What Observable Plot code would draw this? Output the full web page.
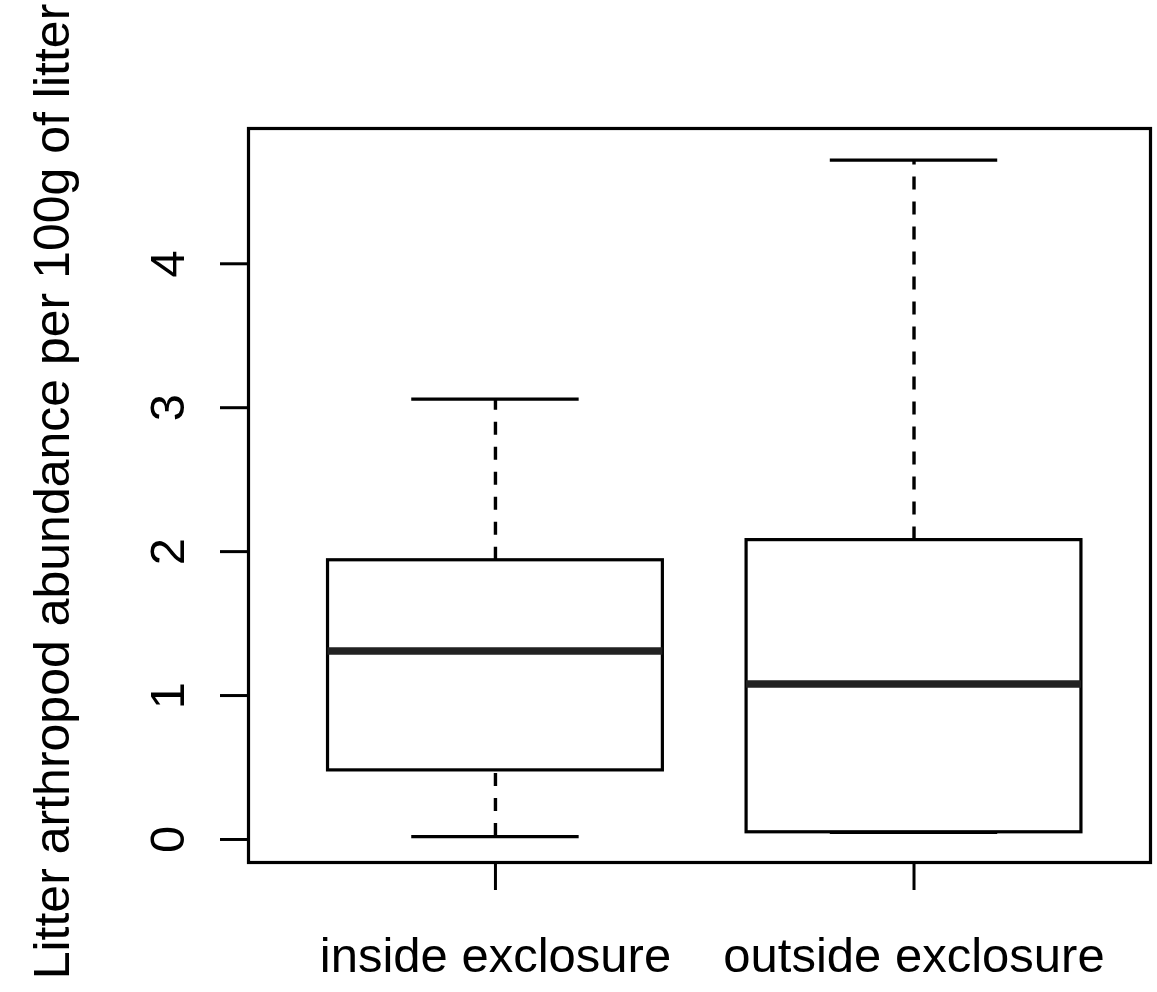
<!DOCTYPE html>
<html>
<head>
<meta charset="utf-8">
<script src="https://cdn.jsdelivr.net/npm/d3@7"></script>
<script src="https://cdn.jsdelivr.net/npm/@observablehq/plot@0.6"></script>
<style>
  html, body { margin: 0; padding: 0; background: #fff; }
  #chart svg { display: block; }
</style>
</head>
<body>
<div id="chart"></div>
<script>
// ---- data ----
const groups   = ["inside exclosure", "outside exclosure"];
const positions = [1, 2];
const lowerWhisker = [0.02, 0.05];
const q1           = [0.48, 0.05];
const median       = [1.31, 1.08];
const q3           = [1.94, 2.08];
const upperWhisker = [3.06, 4.72];
const yTicks = [0, 1, 2, 3, 4];
const yLabel = "Litter arthropod abundance per 100g of litter";

const boxes = groups.map((g, i) => ({
  group: g, pos: positions[i],
  lo: lowerWhisker[i], q1: q1[i], med: median[i], q3: q3[i], hi: upperWhisker[i]
}));

const boxHalf = 0.4, capHalf = 0.2;
const font = "Liberation Sans, Arial, Helvetica, sans-serif";

const chart = Plot.plot({
  width: 1157,
  height: 992,
  marginLeft: 248,
  marginRight: 7,
  marginTop: 128,
  marginBottom: 130,
  style: { background: "#fff", fontFamily: font, color: "#000", overflow: "visible" },
  x: { domain: [0.41, 2.565], axis: null },
  y: { domain: [-0.16, 4.94], axis: null },
  marks: [
    // y axis: ticks + rotated labels
    Plot.axisY(yTicks, {
      anchor: "left", tickSize: 28, tickRotate: -90, tickPadding: 37,
      fontSize: 49, strokeWidth: 3, stroke: "#000", fill: "#000",
      tickFormat: d => String(d), label: null
    }),
    // x axis: ticks + group labels
    Plot.axisX(positions, {
      anchor: "bottom", tickSize: 28, tickPadding: 47,
      fontSize: 49, strokeWidth: 3, stroke: "#000", fill: "#000",
      tickFormat: d => groups[positions.indexOf(d)], label: null
    }),
    // whiskers (dashed)
    Plot.ruleX(boxes, { x: "pos", y1: "q3", y2: "hi", stroke: "#000", strokeWidth: 3.4, strokeDasharray: "13,12" }),
    Plot.ruleX(boxes, { x: "pos", y1: "lo", y2: "q1", stroke: "#000", strokeWidth: 3.4, strokeDasharray: "13,12" }),
    // whisker caps
    Plot.ruleY(boxes, { y: "hi", x1: d => d.pos - capHalf, x2: d => d.pos + capHalf, stroke: "#000", strokeWidth: 3.2 }),
    Plot.ruleY(boxes, { y: "lo", x1: d => d.pos - capHalf, x2: d => d.pos + capHalf, stroke: "#000", strokeWidth: 3.2 }),
    // boxes
    Plot.rect(boxes, { x1: d => d.pos - boxHalf, x2: d => d.pos + boxHalf, y1: "q1", y2: "q3", fill: "#fff", stroke: "#000", strokeWidth: 3.2 }),
    // medians
    Plot.ruleY(boxes, { y: "med", x1: d => d.pos - boxHalf, x2: d => d.pos + boxHalf, stroke: "#222", strokeWidth: 7.5 }),
    // frame
    Plot.frame({ stroke: "#000", strokeWidth: 3.2 }),
    // y axis title
    Plot.text([yLabel], {
      frameAnchor: "left", rotate: -90, dx: -180, dy: -4, lineAnchor: "bottom", textAnchor: "middle",
      fontSize: 50, fill: "#000", text: d => d
    })
  ]
});

document.getElementById("chart").appendChild(chart);
</script>
</body>
</html>
